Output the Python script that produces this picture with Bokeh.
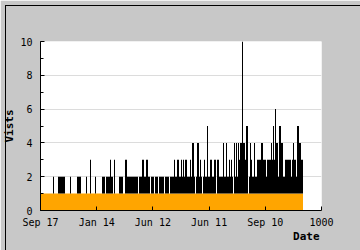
import numpy as np
from bokeh.plotting import figure
from bokeh.layouts import column
from bokeh.models import Range1d, SingleIntervalTicker, FixedTicker, Title, Div
from bokeh.embed import file_html
from bokeh.resources import INLINE

# daily-visit peaks per time bin (one bin = 1000/281 days)
visits = [
    1, 1, 1, 1, 1, 1, 1, 1, 1, 1,
    1, 1, 1, 2, 1, 1, 1, 1, 2, 2,
    2, 2, 2, 2, 2, 1, 1, 1, 1, 1,
    2, 1, 1, 1, 1, 1, 1, 2, 2, 2,
    2, 1, 1, 1, 1, 1, 2, 1, 1, 1,
    3, 1, 1, 1, 1, 2, 1, 1, 1, 1,
    1, 1, 2, 2, 2, 1, 2, 2, 2, 2,
    3, 2, 2, 1, 3, 1, 1, 1, 1, 2,
    2, 2, 2, 1, 1, 3, 3, 2, 2, 2,
    2, 2, 2, 2, 2, 2, 2, 2, 1, 2,
    2, 2, 3, 3, 2, 2, 3, 3, 2, 2,
    1, 2, 2, 2, 1, 2, 2, 2, 1, 2,
    2, 2, 2, 2, 1, 2, 2, 2, 2, 1,
    2, 2, 2, 2, 3, 2, 2, 3, 3, 2,
    2, 3, 2, 3, 2, 3, 3, 2, 2, 2,
    3, 2, 4, 4, 2, 1, 2, 4, 4, 2,
    3, 2, 1, 2, 3, 2, 2, 5, 2, 2,
    3, 3, 2, 2, 3, 3, 1, 3, 3, 2,
    2, 2, 2, 4, 2, 2, 4, 2, 2, 3,
    2, 3, 2, 1, 4, 2, 4, 2, 4, 3,
    4, 4, 10, 4, 4, 3, 5, 5, 1, 2,
    4, 3, 2, 2, 4, 2, 2, 3, 3, 3,
    3, 4, 4, 3, 3, 3, 2, 3, 3, 3,
    3, 4, 3, 5, 3, 6, 4, 4, 2, 5,
    5, 4, 4, 2, 2, 3, 3, 3, 3, 3,
    3, 2, 3, 4, 3, 3, 2, 5, 5, 4,
    4, 3, 3,
]
min_visits = 1
bin_days = 1000 / 281

x_tick_values = [0, 200, 400, 600, 800, 1000]
x_tick_labels = ["Sep 17", "Jan 14", "Jun 12", "Jun 11", "Sep 10", "1000"]

n = len(visits)
days = np.arange(n) * bin_days

FONT = "DejaVu Sans Mono"

p = figure(width=360, height=250, x_range=Range1d(0, 1000), y_range=Range1d(0, 10),
           output_backend="svg", toolbar_location=None,
           min_border_left=40, min_border_right=39, min_border_top=41, min_border_bottom=40)
p.border_fill_color = "#c8c8c8"
p.background_fill_color = "white"
p.outline_line_color = None

# orange base area
p.varea(x=[days[0] - bin_days / 2, days[-1] + bin_days / 2], y1=0, y2=min_visits,
        fill_color="#ffa500")
# black spikes above the base
p.vbar(x=days, bottom=min_visits, top=visits, width=bin_days,
       fill_color="black", line_color=None)

# axes
p.xaxis.ticker = FixedTicker(ticks=x_tick_values)
p.xaxis.major_label_overrides = {v: l for v, l in zip(x_tick_values, x_tick_labels)}
p.yaxis.ticker = SingleIntervalTicker(interval=2, num_minor_ticks=2)
p.ygrid.ticker = SingleIntervalTicker(interval=2)
p.xgrid.grid_line_color = None
p.ygrid.grid_line_color = "#dcdcdc"

for ax in (p.xaxis[0], p.yaxis[0]):
    ax.axis_line_color = "black"
    ax.major_tick_line_color = "black"
    ax.minor_tick_line_color = "black"
    ax.major_tick_in = 4
    ax.major_tick_out = 0
    ax.minor_tick_in = 3
    ax.minor_tick_out = 0
    ax.major_label_text_font = FONT
    ax.major_label_text_font_size = "10px"
    ax.major_label_text_color = "black"
p.xaxis.major_label_standoff = 6
p.yaxis.major_label_standoff = 8
p.xaxis.minor_tick_line_color = None

p.yaxis.axis_label = "Vists"
p.yaxis.axis_label_text_font = FONT
p.yaxis.axis_label_text_font_size = "11px"
p.yaxis.axis_label_text_font_style = "bold"
p.yaxis.axis_label_text_color = "black"
p.yaxis.axis_label_text_line_height = 1.0
p.yaxis.axis_label_standoff = 1

p.add_layout(Title(text="Date", align="right", text_font=FONT, text_font_size="11px",
                   text_font_style="bold", text_color="black", standoff=-5, offset=2), "below")

# thin black frame around the whole image (outline does not change the box size)
frame_border = Div(text="", styles={
    "position": "fixed", "left": "0px", "top": "0px",
    "width": "360px", "height": "250px",
    "min-width": "360px", "max-width": "360px",
    "min-height": "250px", "max-height": "250px",
    "padding": "0px", "border": "none",
    "outline": "1px solid black", "outline-offset": "-1px",
    "pointer-events": "none", "z-index": "1000"})

page = column(p, frame_border, spacing=0)

open("out.html", "w").write(file_html(page, INLINE))
